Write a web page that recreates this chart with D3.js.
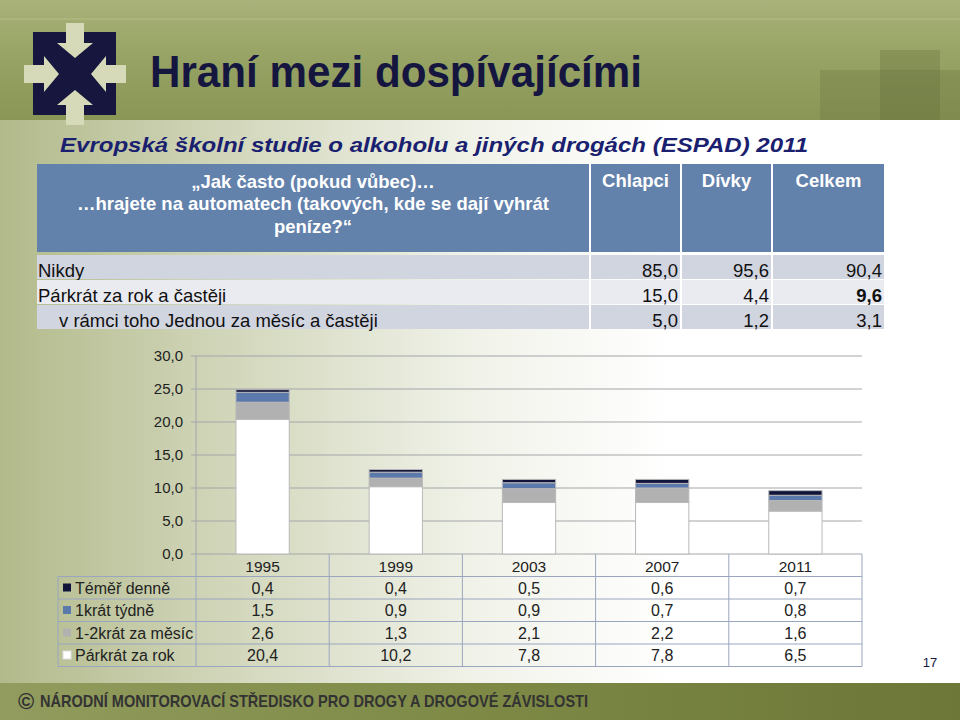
<!DOCTYPE html>
<html><head><meta charset="utf-8">
<script src="https://cdn.jsdelivr.net/npm/d3@7"></script>
<style>body{margin:0;padding:0;overflow:hidden}svg{display:block}text{font-family:"Liberation Sans",Arial,sans-serif}</style>
</head><body>
<script>
// ---- data ----
const years = ["1995","1999","2003","2007","2011"];
const seriesNames = ["Téměř denně","1krát týdně","1-2krát za měsíc","Párkrát za rok"];
const temerDenne = [0.4,0.4,0.5,0.6,0.7];
const jednouTydne = [1.5,0.9,0.9,0.7,0.8];
const mesicne = [2.6,1.3,2.1,2.2,1.6];
const parkratRok = [20.4,10.2,7.8,7.8,6.5];
const yTicks = [0,5,10,15,20,25,30];
const topHeader = ["Chlapci","Dívky","Celkem"];
const topRowLabels = ["Nikdy","Párkrát za rok a častěji","v rámci toho Jednou za měsíc a častěji"];
const chlapci = [85.0,15.0,5.0];
const divky = [95.6,4.4,1.2];
const celkem = [90.4,9.6,3.1];

const W=960,H=720;
const fmt = v => d3.format(".1f")(v).replace(".",",");
const svg = d3.select("body").append("svg").attr("width",W).attr("height",H);
const defs = svg.append("defs");

// background gradients
const bg = defs.append("linearGradient").attr("id","bg").attr("x1",0).attr("x2",1).attr("y1",0).attr("y2",0);
bg.append("stop").attr("offset","0").attr("stop-color","#b2ba8b");
bg.append("stop").attr("offset","0.25").attr("stop-color","#d3d8bd");
bg.append("stop").attr("offset","0.5").attr("stop-color","#f1f3ea");
bg.append("stop").attr("offset","0.7").attr("stop-color","#ffffff");
bg.append("stop").attr("offset","1").attr("stop-color","#ffffff");
svg.append("rect").attr("width",W).attr("height",H).attr("fill","url(#bg)");

const tb = defs.append("linearGradient").attr("id","tb").attr("x1",0).attr("x2",0).attr("y1",0).attr("y2",1);
tb.append("stop").attr("offset","0").attr("stop-color","#a9b27a");
tb.append("stop").attr("offset","0.45").attr("stop-color","#98a465");
tb.append("stop").attr("offset","1").attr("stop-color","#8a9656");
svg.append("rect").attr("x",0).attr("y",0).attr("width",W).attr("height",120).attr("fill","url(#tb)");
svg.append("rect").attr("x",0).attr("y",18).attr("width",W).attr("height",2).attr("fill","#b3bb84").attr("opacity",0.6);
svg.append("rect").attr("x",820).attr("y",70).attr("width",140).attr("height",50).attr("fill","#6e7842").attr("opacity",0.35);
svg.append("rect").attr("x",880).attr("y",50).attr("width",60).attr("height",70).attr("fill","#5f6a38").attr("opacity",0.3);

const bb = defs.append("linearGradient").attr("id","bb").attr("x1",0).attr("x2",1).attr("y1",0).attr("y2",0);
bb.append("stop").attr("offset","0").attr("stop-color","#919c5e");
bb.append("stop").attr("offset","0.5").attr("stop-color","#7d8945");
bb.append("stop").attr("offset","1").attr("stop-color","#6c7738");
svg.append("rect").attr("x",0).attr("y",683).attr("width",W).attr("height",37).attr("fill","url(#bb)");

// logo
const cx=75, cy=74;
svg.append("rect").attr("x",33).attr("y",32).attr("width",83).attr("height",83).attr("fill","#16163e");
const arrow = [[-9,-51],[9,-51],[9,-31],[18,-31],[0,-16],[-18,-31],[-9,-31]];
[0,90,180,270].forEach(a=>{
  svg.append("polygon").attr("points",arrow.map(p=>p.join(",")).join(" "))
    .attr("transform",`translate(${cx},${cy}) rotate(${a})`).attr("fill","#d6dab8");
});

// titles
svg.append("text").attr("x",150).attr("y",87).attr("font-size",44).attr("font-weight","bold")
  .attr("fill","#15163f").attr("textLength",492).attr("lengthAdjust","spacingAndGlyphs").text("Hraní mezi dospívajícími");
svg.append("text").attr("x",60).attr("y",152).attr("font-size",20).attr("font-weight","bold").attr("font-style","italic")
  .attr("fill","#1a1f70").attr("textLength",748).attr("lengthAdjust","spacingAndGlyphs")
  .text("Evropská školní studie o alkoholu a jiných drogách (ESPAD) 2011");

// top table
const colX=[37,589,680,771,884];
svg.append("rect").attr("x",37).attr("y",164).attr("width",847).attr("height",88).attr("fill","#6281ab");
[589,680,771].forEach(x=>svg.append("rect").attr("x",x).attr("y",164).attr("width",2).attr("height",88).attr("fill","#ffffff"));
const hdr = ["„Jak často (pokud vůbec)…","…hrajete na automatech (takových, kde se dají vyhrát","peníze?“"];
hdr.forEach((t,i)=>svg.append("text").attr("x",313).attr("y",188+i*22.3).attr("text-anchor","middle")
  .attr("font-size",18.5).attr("font-weight","bold").attr("fill","#ffffff").text(t));
topHeader.forEach((t,i)=>svg.append("text").attr("x",(colX[i+1]+colX[i+2])/2+1).attr("y",187).attr("text-anchor","middle")
  .attr("font-size",18.5).attr("font-weight","bold").attr("fill","#ffffff").text(t));
const rowY=[255,280,305], rowH=25;
const cols=[chlapci,divky,celkem];
topRowLabels.forEach((lab,r)=>{
  svg.append("rect").attr("x",37).attr("y",rowY[r]).attr("width",847).attr("height",rowH-1).attr("fill",r===1?"#e9ebf1":"#d1d5e0");
  [589,680,771].forEach(x=>svg.append("rect").attr("x",x).attr("y",rowY[r]).attr("width",2).attr("height",rowH).attr("fill","#ffffff"));
  svg.append("text").attr("x",r===2?59:38).attr("y",rowY[r]+22).attr("font-size",18.5).attr("fill","#111").text(lab);
  cols.forEach((c,ci)=>svg.append("text").attr("x",colX[ci+2]-2).attr("y",rowY[r]+22).attr("text-anchor","end")
    .attr("font-size",18.5).attr("fill","#111").attr("font-weight",(ci===2&&r===1)?"bold":"normal").text(fmt(c[r])));
});

// chart
const x = d3.scaleBand().domain(years).range([196,862]).paddingInner(0.6).paddingOuter(0.3);
const y = d3.scaleLinear().domain([0,30]).range([554,356]);
const gy = svg.append("g").attr("transform","translate(196,0)")
  .call(d3.axisLeft(y).tickValues(yTicks).tickSize(0).tickPadding(13).tickFormat(fmt));
gy.select(".domain").remove();
gy.selectAll("text").attr("font-size",15).attr("fill","#222").attr("font-family","Liberation Sans, Arial, sans-serif");
svg.append("g").selectAll("line").data(yTicks).join("line")
  .attr("x1",191).attr("x2",862).attr("y1",d=>y(d)).attr("y2",d=>y(d)).attr("stroke","#a3a6a8").attr("stroke-width",1);
svg.append("line").attr("x1",196).attr("x2",196).attr("y1",356).attr("y2",554).attr("stroke","#a3a6a8");

const rows = years.map((yr,i)=>({year:yr,"Téměř denně":temerDenne[i],"1krát týdně":jednouTydne[i],"1-2krát za měsíc":mesicne[i],"Párkrát za rok":parkratRok[i]}));
const stackKeys = ["Párkrát za rok","1-2krát za měsíc","1krát týdně","Téměř denně"];
const colors = {"Téměř denně":"#10143a","1krát týdně":"#5b79aa","1-2krát za měsíc":"#b1b1b1","Párkrát za rok":"#ffffff"};
const stacked = d3.stack().keys(stackKeys)(rows);
svg.append("g").selectAll("g").data(stacked).join("g").attr("fill",d=>colors[d.key])
  .selectAll("rect").data(d=>d).join("rect")
  .attr("x",d=>x(d.data.year)).attr("width",x.bandwidth())
  .attr("y",d=>y(d[1])).attr("height",d=>y(d[0])-y(d[1]))
  .attr("stroke","#b9b9b9").attr("stroke-width",1);

// data table
const step = x.step();
const tTop=554, rh=22.5;
const tRowsY = [tTop, tTop+rh, tTop+2*rh, tTop+3*rh, tTop+4*rh, tTop+5*rh];
const lc="#9aa6bf";
for(let r=1;r<=5;r++) svg.append("line").attr("x1",58).attr("x2",862).attr("y1",tRowsY[r]).attr("y2",tRowsY[r]).attr("stroke",lc);
svg.append("line").attr("x1",58).attr("x2",58).attr("y1",tRowsY[1]).attr("y2",tRowsY[5]).attr("stroke",lc);
for(let i=0;i<=5;i++) svg.append("line").attr("x1",196+i*step).attr("x2",196+i*step).attr("y1",tTop).attr("y2",tRowsY[5]).attr("stroke",lc);
years.forEach(yr=>svg.append("text").attr("x",x(yr)+x.bandwidth()/2).attr("y",tTop+18).attr("text-anchor","middle")
  .attr("font-size",15.5).attr("fill","#222").text(yr));
const tableSeries=[temerDenne,jednouTydne,mesicne,parkratRok];
seriesNames.forEach((nm,r)=>{
  const yy=tRowsY[r+1];
  svg.append("rect").attr("x",63).attr("y",yy+7).attr("width",8).attr("height",8).attr("fill",colors[nm])
    .attr("stroke",nm==="Párkrát za rok"?"#dddddd":"none");
  svg.append("text").attr("x",75).attr("y",yy+17).attr("font-size",16).attr("fill","#222").text(nm);
  years.forEach((yr,i)=>svg.append("text").attr("x",x(yr)+x.bandwidth()/2).attr("y",yy+17).attr("text-anchor","middle")
    .attr("font-size",16).attr("fill","#222").text(fmt(tableSeries[r][i])));
});

svg.append("text").attr("x",930).attr("y",667).attr("text-anchor","middle").attr("font-size",13).attr("fill","#15163f").text("17");

// footer
svg.append("text").attr("x",18).attr("y",709).attr("font-size",22).attr("font-weight","bold").attr("fill","#333").text("©");
svg.append("text").attr("x",40).attr("y",707).attr("font-size",17).attr("font-weight","bold").attr("fill","#333")
  .attr("textLength",548).attr("lengthAdjust","spacingAndGlyphs")
  .text("NÁRODNÍ MONITOROVACÍ STŘEDISKO PRO DROGY A DROGOVÉ ZÁVISLOSTI");
</script>
</body></html>
